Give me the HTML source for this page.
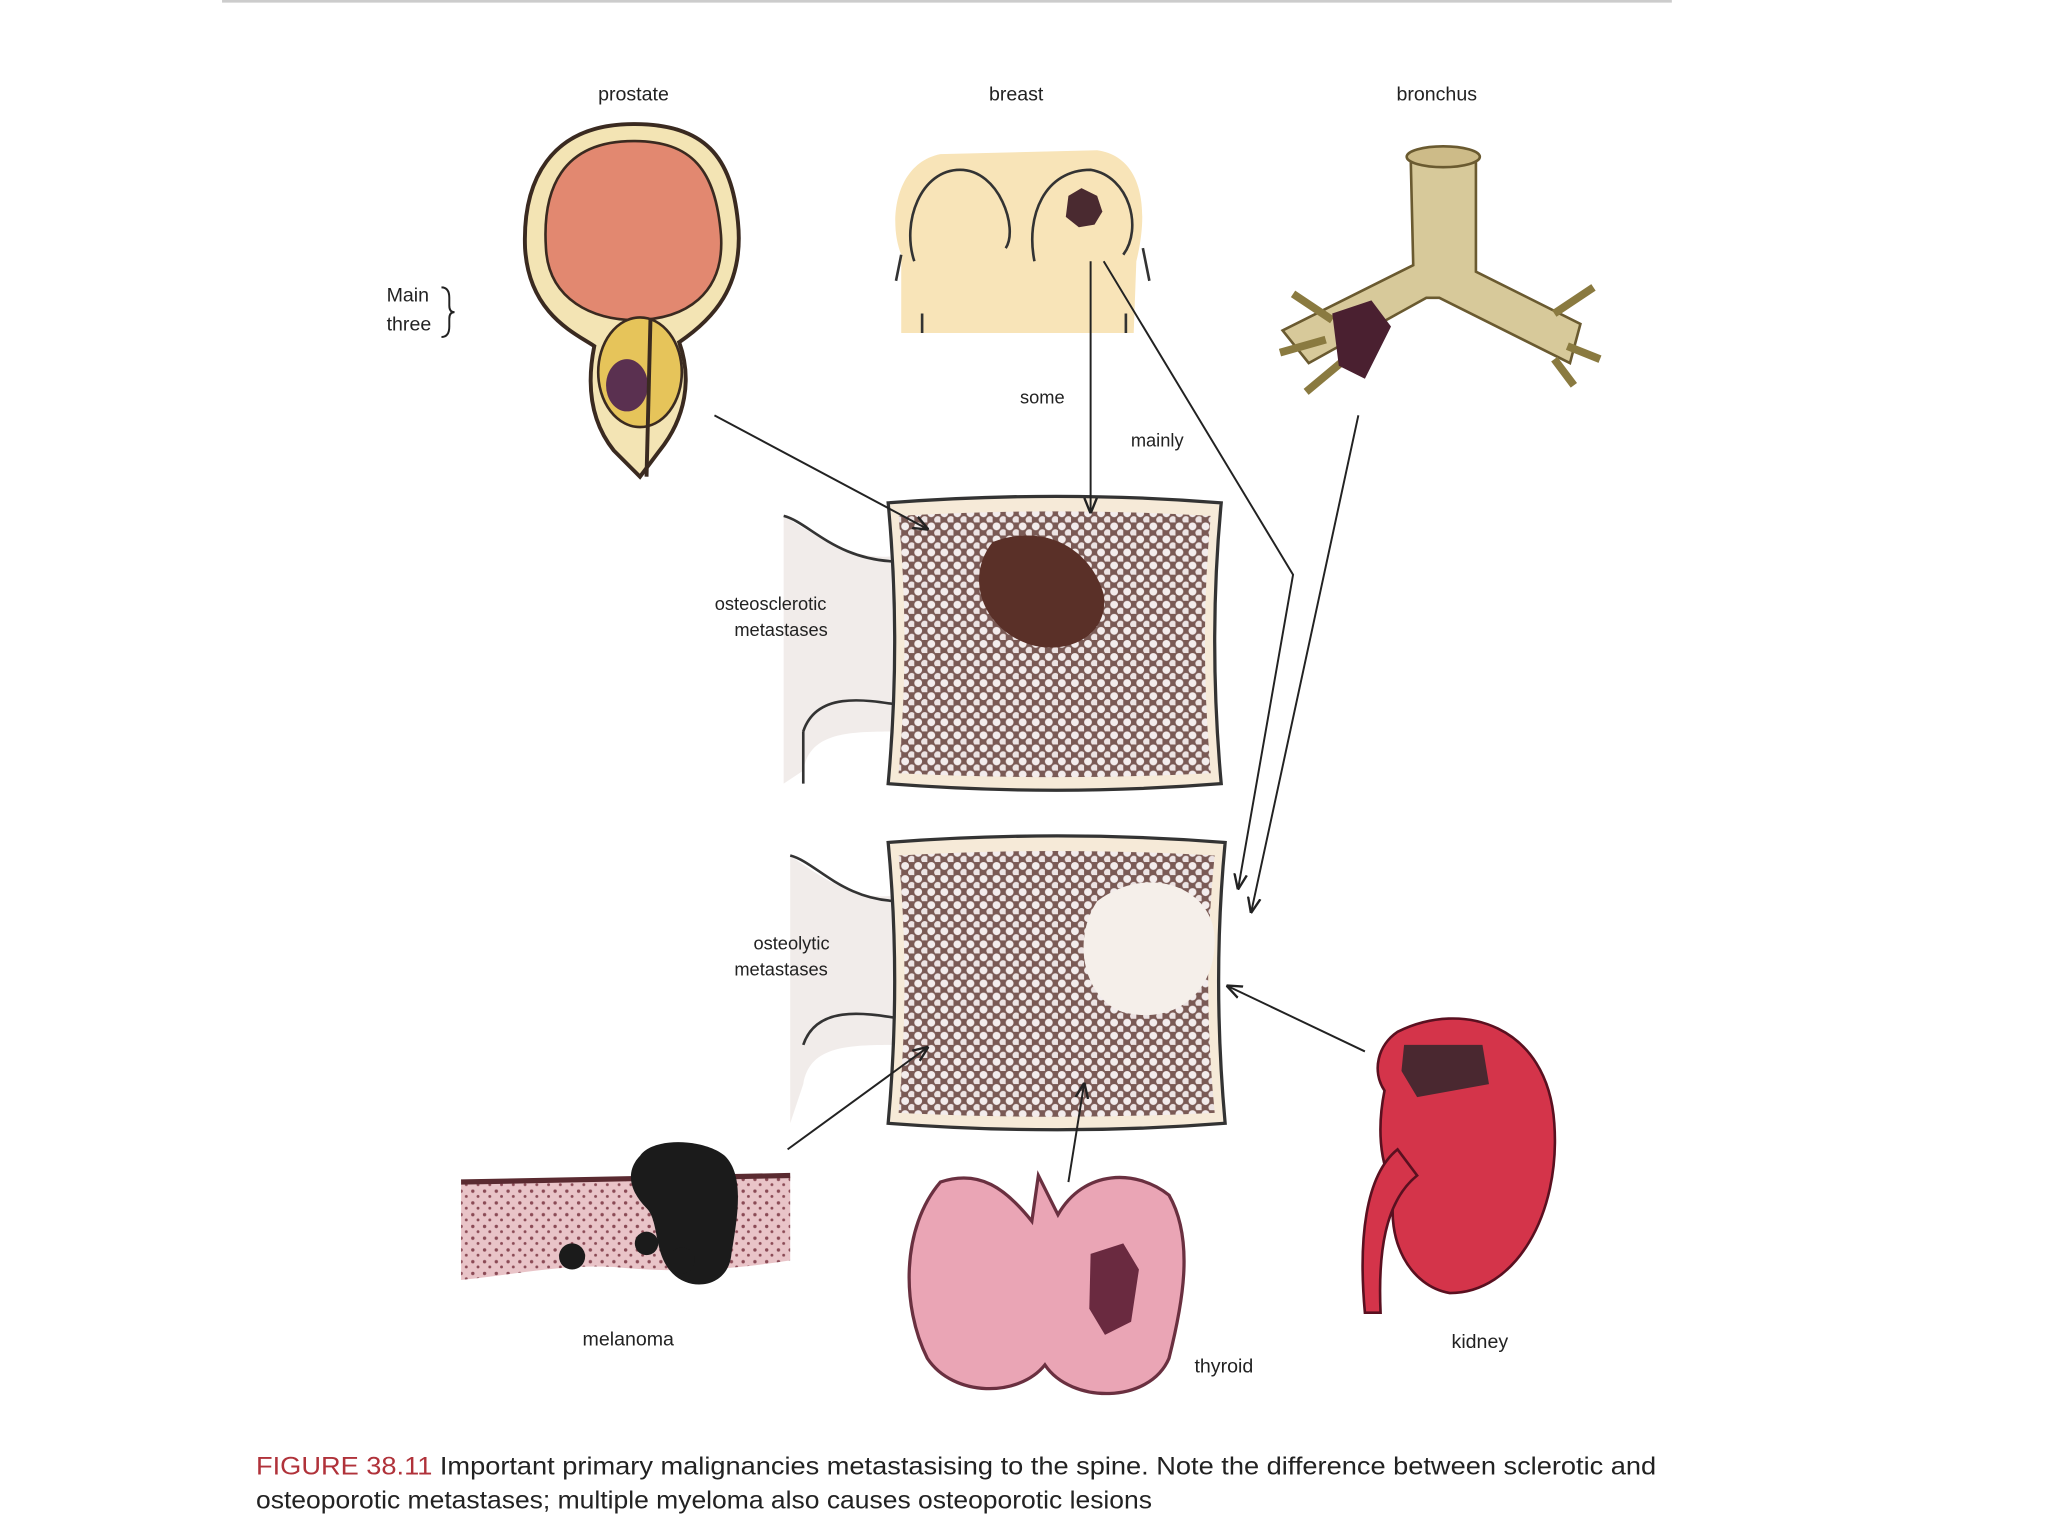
<!DOCTYPE html>
<html><head><meta charset="utf-8"><style>
html,body{margin:0;padding:0;background:#fff;}
svg{display:block}
text{font-family:"Liberation Sans",sans-serif;fill:#222}
</style></head><body>
<svg width="2048" height="1536" viewBox="0 0 1568 1176" xmlns="http://www.w3.org/2000/svg">
<defs>
<pattern id="bone" width="10" height="10" patternUnits="userSpaceOnUse">
<rect width="10" height="10" fill="#7a5a55"/>
<circle cx="3" cy="3" r="3" fill="#f3ecec"/>
<circle cx="8" cy="8" r="2.8" fill="#ece3e3"/>
</pattern>
<pattern id="skin" width="9" height="9" patternUnits="userSpaceOnUse">
<rect width="9" height="9" fill="#e9c4c8"/>
<circle cx="2" cy="3" r="1.3" fill="#8a4a55"/>
<circle cx="6" cy="7" r="1.1" fill="#8a4a55"/>
</pattern>
<marker id="ar" viewBox="0 0 10 10" refX="9" refY="5" markerWidth="8" markerHeight="8" orient="auto"><path d="M0,1 L10,5 L0,9" fill="none" stroke="#222" stroke-width="1.5"/></marker>
</defs>
<line x1="170" y1="1" x2="1280" y2="1" stroke="#ccc" stroke-width="2"/>
<text x="485" y="77" font-size="15" text-anchor="middle">prostate</text>
<text x="778" y="77" font-size="15" text-anchor="middle">breast</text>
<text x="1100" y="77" font-size="15" text-anchor="middle">bronchus</text>
<text x="296" y="231" font-size="15">Main</text>
<text x="296" y="253" font-size="15">three</text>
<path d="M338,220 q6,0 6,8 v6 q0,5 4,5 q-4,0 -4,5 v6 q0,8 -6,8" fill="none" stroke="#222" stroke-width="1.5"/>
<!-- prostate -->
<path d="M485,95 C420,95 400,140 402,190 C405,240 440,255 455,265 C450,290 450,320 470,345 L490,365 L505,345 C525,320 530,290 520,262 C545,245 570,220 565,170 C560,120 540,95 485,95Z" fill="#f3e4b4" stroke="#3a2a20" stroke-width="3"/>
<path d="M485,108 C430,108 415,145 418,190 C420,230 455,245 485,245 C525,245 555,225 552,180 C548,130 530,108 485,108Z" fill="#e28870" stroke="#3a2a20" stroke-width="2"/>
<ellipse cx="490" cy="285" rx="32" ry="42" fill="#e6c45a" stroke="#3a2a20" stroke-width="2"/>
<ellipse cx="480" cy="295" rx="16" ry="20" fill="#5a3050"/>
<path d="M498,245 L495,365" stroke="#3a2a20" stroke-width="3" fill="none"/>
<!-- breast -->
<path d="M690,255 L690,195 C680,170 685,125 720,118 L840,115 C875,120 880,160 870,200 L868,255Z" fill="#f8e4b8"/>
<path d="M700,200 C690,170 705,130 735,130 C765,130 780,175 770,190 M792,200 C785,165 800,130 835,130 C865,135 875,175 860,195" fill="none" stroke="#333" stroke-width="2"/>
<path d="M690,195 L686,215 M875,190 L880,215 M706,240 V255 M862,240 V255" stroke="#333" stroke-width="2"/>
<path d="M818,150 l10,-6 12,6 4,12 -6,10 -12,2 -10,-8z" fill="#4a2a30"/>
<text x="798" y="309" font-size="14" text-anchor="middle">some</text>
<text x="886" y="342" font-size="14" text-anchor="middle">mainly</text>
<!-- bronchus -->
<path d="M1080,118 h50 v90 l80,40 -8,30 -100,-50 -10,0 -90,50 -20,-25 100,-50Z" fill="#d7c99a" stroke="#6a5a30" stroke-width="2"/>
<ellipse cx="1105" cy="120" rx="28" ry="8" fill="#cdbb88" stroke="#6a5a30" stroke-width="2"/>
<path d="M1020,245 l-30,-20 M1015,260 l-35,10 M1030,275 l-30,25 M1190,240 l30,-20 M1200,265 l25,10 M1190,275 l15,20" stroke="#8a7a40" stroke-width="6"/>
<path d="M1020,240 l30,-10 15,20 -20,40 -20,-10z" fill="#4a2030"/>
<!-- vertebra 1 -->
<path d="M600,395 C640,420 660,430 690,425 L690,560 C650,560 620,560 615,590 L600,600Z" fill="#f1ecea"/>
<path d="M600,395 C620,400 640,430 690,430 M615,560 C625,530 660,535 690,540 M615,560 V600" stroke="#333" stroke-width="2" fill="none"/>
<path d="M680,385 Q810,375 935,385 Q925,490 935,600 Q810,610 680,600 Q690,490 680,385Z" fill="#f6ead8" stroke="#333" stroke-width="2.5"/>
<path d="M688,395 Q810,388 927,395 Q918,490 927,592 Q810,598 688,592 Q697,490 688,395Z" fill="url(#bone)"/>
<path d="M760,415 C800,400 835,420 845,455 C850,490 810,505 780,490 C750,475 740,440 760,415Z" fill="#5a3028"/>
<text x="590" y="467" font-size="14" text-anchor="middle">osteosclerotic</text>
<text x="598" y="487" font-size="14" text-anchor="middle">metastases</text>
<!-- vertebra 2 -->
<path d="M605,655 C640,680 660,690 690,685 L690,800 C650,800 620,800 615,830 L605,860Z" fill="#f1ecea"/>
<path d="M605,655 C625,660 645,690 690,690 M615,800 C625,770 660,775 690,780" stroke="#333" stroke-width="2" fill="none"/>
<path d="M680,645 Q810,635 938,645 Q928,750 938,860 Q810,870 680,860 Q690,750 680,645Z" fill="#f6ead8" stroke="#333" stroke-width="2.5"/>
<path d="M688,655 Q810,648 930,655 Q920,750 930,852 Q810,858 688,852 Q697,750 688,655Z" fill="url(#bone)"/>
<path d="M840,690 C880,660 930,680 930,720 C930,760 900,785 860,775 C830,765 820,720 840,690Z" fill="#f5efea"/>
<text x="606" y="727" font-size="14" text-anchor="middle">osteolytic</text>
<text x="598" y="747" font-size="14" text-anchor="middle">metastases</text>
<!-- arrows -->
<g stroke="#222" stroke-width="1.5" fill="none" marker-end="url(#ar)">
<line x1="547" y1="318" x2="710" y2="405"/>
<line x1="835" y1="200" x2="835" y2="392"/>
<path d="M845,200 L990,440 L948,680"/>
<line x1="1040" y1="318" x2="958" y2="698"/>
<line x1="1045" y1="805" x2="940" y2="755"/>
<line x1="603" y1="880" x2="710" y2="802"/>
<line x1="818" y1="905" x2="830" y2="830"/>
</g>
<!-- melanoma -->
<path d="M353,905 L605,900 L605,965 C560,972 520,975 470,970 C430,968 400,975 353,980Z" fill="url(#skin)"/>
<line x1="353" y1="905" x2="605" y2="900" stroke="#5a2a30" stroke-width="4"/>
<path d="M490,885 C500,870 540,872 555,885 C570,900 565,930 560,960 C558,985 530,990 515,975 C500,960 505,935 495,925 C480,910 480,895 490,885Z" fill="#1b1b1b"/>
<circle cx="438" cy="962" r="10" fill="#1b1b1b"/><circle cx="495" cy="952" r="9" fill="#1b1b1b"/><circle cx="522" cy="965" r="10" fill="#1b1b1b"/>
<text x="481" y="1030" font-size="15" text-anchor="middle">melanoma</text>
<!-- thyroid -->
<path d="M720,905 C750,895 770,910 790,935 L795,900 L810,930 C830,895 870,895 895,915 C915,950 905,1000 895,1040 C880,1075 820,1075 800,1045 C780,1070 730,1070 710,1040 C690,1000 690,940 720,905Z" fill="#eaa5b5" stroke="#6a3040" stroke-width="2.5"/>
<path d="M835,960 l25,-8 12,20 -6,40 -20,10 -12,-20z" fill="#6a2a40"/>
<text x="937" y="1051" font-size="15" text-anchor="middle">thyroid</text>
<!-- kidney -->
<path d="M1070,790 C1120,765 1185,785 1190,860 C1195,930 1160,990 1110,990 C1080,985 1060,950 1068,910 C1055,890 1055,860 1060,835 C1050,820 1055,800 1070,790Z" fill="#d4344a" stroke="#5a1020" stroke-width="2"/>
<path d="M1070,880 C1045,900 1040,950 1045,1005 L1057,1005 C1055,960 1060,920 1085,900Z" fill="#d4344a" stroke="#5a1020" stroke-width="2"/>
<path d="M1075,800 h60 l5,30 -55,10 -12,-20z" fill="#4a2830"/>
<text x="1133" y="1032" font-size="15" text-anchor="middle">kidney</text>
<!-- caption -->
<text x="196" y="1129" font-size="19" textLength="1072" lengthAdjust="spacingAndGlyphs"><tspan fill="#b0323a">FIGURE 38.11</tspan> Important primary malignancies metastasising to the spine. Note the difference between sclerotic and</text>
<text x="196" y="1155" font-size="19" textLength="686" lengthAdjust="spacingAndGlyphs">osteoporotic metastases; multiple myeloma also causes osteoporotic lesions</text>
</svg>
</body></html>
